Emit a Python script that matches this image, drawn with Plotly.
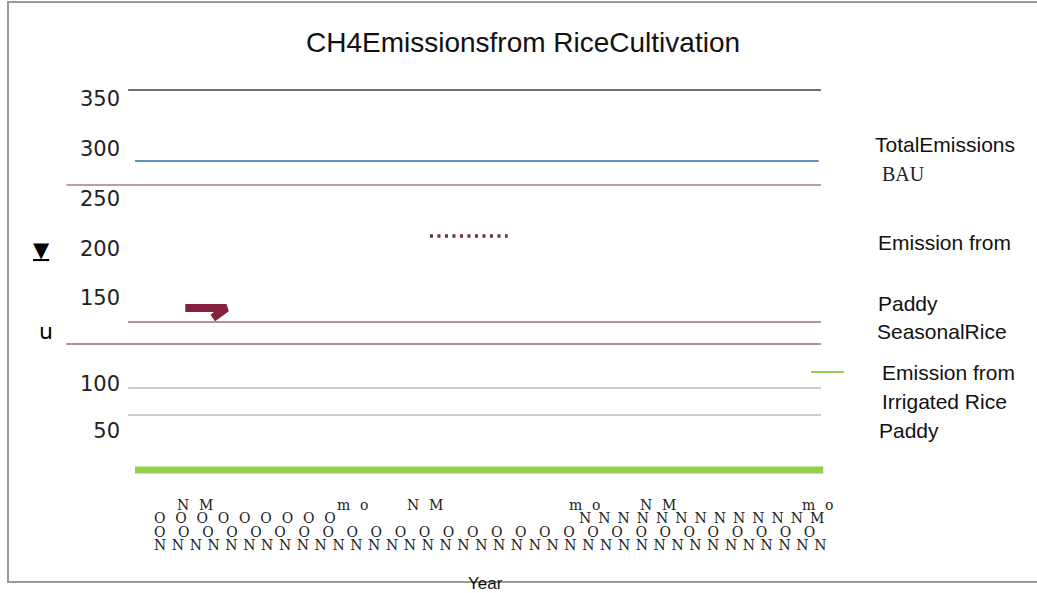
import plotly.graph_objects as go

W, H = 1037, 593
ML, MR, MT, MB = 60, 187, 80, 113
PW = W - ML - MR
PH = H - MT - MB


def xp(px):
    return (px - ML) / PW


def yp(py):
    return (H - MB - py) / PH


# ---------------- data ----------------
title_text = "CH4Emissionsfrom RiceCultivation"
x_title = "Year"
y_tick_labels = ["350", "300", "250", "200", "150", "100", "50"]
y_tick_values = [350, 300, 250, 200, 151, 65, 18]
y_title_parts = ["<u>▼</u>", "u"]

top_years = [2009.7, 2040.0]
top_vals = [359, 359]
total_years = [2010.0, 2039.9]
total_vals = [288, 288]
bau_years = [2007.0, 2040.0]
bau_vals = [264, 264]
paddy_dot_years = [2022.9, 2026.3]
paddy_dot_vals = [213, 213]
paddy_mark_years = [2012.2, 2014.0, 2013.4]
paddy_mark_vals = [141, 141, 131]
seasonal_years = [2009.7, 2040.0]
seasonal_vals = [127, 127]
seasonal_low_years = [2007.0, 2040.0]
seasonal_low_vals = [105, 105]
irr_upper_years = [2009.7, 2040.0]
irr_upper_vals = [61, 61]
irr_lower_years = [2009.7, 2040.0]
irr_lower_vals = [34, 34]
irrigated_years = [2010.0, 2040.1]
irrigated_vals = [-21, -21]

legend_texts = ["TotalEmissions", "BAU", "Emission from", "Paddy", "SeasonalRice",
                "Emission from", "Irrigated Rice", "Paddy"]

x_row1 = ["N\u2002\u2009M", "m\u2002\u2009o", "N\u2002\u2009M",
          "m\u2002\u2009o", "N\u2002\u2009M", "m\u2002\u2009o"]
x_row2 = ["\u2002\u2009".join(["O"] * 9), "\u2002".join(["N"] * 12) + "\u2002M"]
x_row3 = ["\u2002\u2009\u2009".join(["O"] * 28)]
x_row4 = ["\u2009\u2009".join(["N"] * 38)]

# ---------------- figure ----------------
fig = go.Figure()


def add_line(xs, ys, color, width, dash="solid"):
    fig.add_trace(go.Scatter(x=xs, y=ys, mode="lines",
                             line=dict(color=color, width=width, dash=dash),
                             hoverinfo="skip", showlegend=False))


add_line(top_years, top_vals, "#6e6e6e", 2)
add_line(total_years, total_vals, "#2f6ea8", 1.3)
add_line(bau_years, bau_vals, "#a87a90", 1.6)
add_line(paddy_dot_years, paddy_dot_vals, "#6b2d55", 3.5, "3px,4.5px")
add_line(paddy_mark_years, paddy_mark_vals, "#85203f", 8)
add_line(seasonal_years, seasonal_vals, "#9c6a82", 1.3)
add_line(seasonal_low_years, seasonal_low_vals, "#9c6a82", 1.3)
add_line(irr_upper_years, irr_upper_vals, "#b8b8b8", 1.5)
add_line(irr_lower_years, irr_lower_vals, "#b8b8b8", 1.5)
add_line(irrigated_years, irrigated_vals, "#92d050", 7)

ann = []
sans = "Liberation Sans"
leg_pos = [(873, 144), (880, 174), (876, 242), (876, 303), (875, 331),
           (880, 372), (880, 401), (877, 430)]
for t, (px, py) in zip(legend_texts, leg_pos):
    if t == "BAU":
        f = dict(family="Liberation Serif", size=20, color="#222")
    else:
        f = dict(family=sans, size=21, color="#111")
    ann.append(dict(text=t, x=xp(px), y=yp(py), xref="paper", yref="paper",
                    xanchor="left", yanchor="middle", showarrow=False, font=f))

# y-title fragments
ann.append(dict(text=y_title_parts[0], x=xp(41), y=yp(250), xref="paper", yref="paper",
                xanchor="center", yanchor="middle", showarrow=False,
                font=dict(family="DejaVu Sans", size=21, color="#000")))
ann.append(dict(text=y_title_parts[1], x=xp(46), y=yp(331), xref="paper", yref="paper",
                xanchor="center", yanchor="middle", showarrow=False,
                font=dict(family="DejaVu Sans", size=22, color="#000")))

# x tick label rows
serif = "DejaVu Serif"
xf = dict(family=serif, size=14, color="#222")
row1_x = [175, 335, 405, 567, 638, 800]
for t, px in zip(x_row1, row1_x):
    ann.append(dict(text=t, x=xp(px), y=yp(505), xref="paper", yref="paper",
                    xanchor="left", yanchor="middle", showarrow=False, font=xf))
for t, px in zip(x_row2, [152, 577]):
    ann.append(dict(text=t, x=xp(px), y=yp(518), xref="paper", yref="paper",
                    xanchor="left", yanchor="middle", showarrow=False, font=xf))
ann.append(dict(text=x_row3[0], x=xp(152), y=yp(532), xref="paper", yref="paper",
                xanchor="left", yanchor="middle", showarrow=False, font=xf))
ann.append(dict(text=x_row4[0], x=xp(152), y=yp(545), xref="paper", yref="paper",
                xanchor="left", yanchor="middle", showarrow=False, font=xf))

# x title
ann.append(dict(text=x_title, x=xp(485), y=yp(583), xref="paper", yref="paper",
                xanchor="center", yanchor="middle", showarrow=False,
                font=dict(family=sans, size=17, color="#111")))

shapes = [
    dict(type="rect", xref="paper", yref="paper", x0=xp(8), x1=xp(1046),
         y0=yp(582), y1=yp(2), line=dict(color="#9a9a9a", width=2), layer="below"),
    dict(type="line", xref="paper", yref="paper", x0=xp(811), x1=xp(844),
         y0=yp(372), y1=yp(372), line=dict(color="#92d050", width=2)),
]

fig.update_layout(
    width=W, height=H,
    margin=dict(l=ML, r=MR, t=MT, b=MB),
    paper_bgcolor="white", plot_bgcolor="white",
    showlegend=False,
    title=dict(text=title_text, x=xp(523), xref="paper", xanchor="center",
               y=1 - 42 / H, yref="container", yanchor="middle",
               font=dict(family=sans, size=28, color="#111")),
    xaxis=dict(range=[2006.72, 2041.27], visible=False, fixedrange=True),
    yaxis=dict(range=[-31, 369], anchor="free", position=xp(120),
               tickmode="array", tickvals=y_tick_values, ticktext=y_tick_labels,
               ticks="", showline=False, showgrid=False, zeroline=False,
               tickfont=dict(family="DejaVu Sans", size=21, color="#222"),
               fixedrange=True),
    annotations=ann,
    shapes=shapes,
)

fig.write_html(
    "out.html",
    config={"displayModeBar": False},
    post_script="document.body.style.margin='0';document.body.style.overflow='hidden';",
)
